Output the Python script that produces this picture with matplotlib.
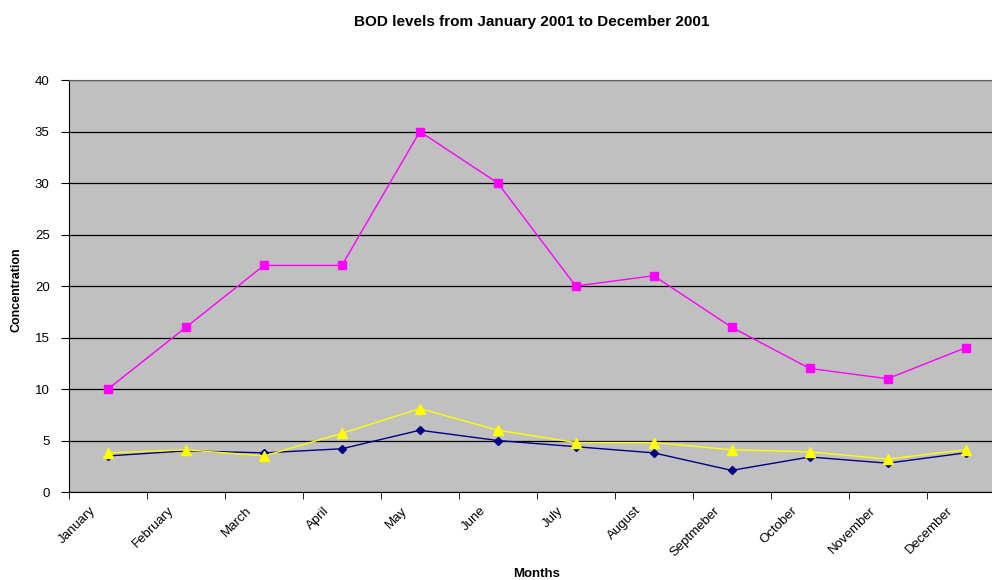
import matplotlib.pyplot as plt
import matplotlib.transforms as mtransforms
import numpy as np

# monthly BOD readings, 2001
months = ['January', 'February', 'March', 'April', 'May', 'June', 'July',
          'August', 'Septmeber', 'October', 'November', 'December']
series_a = [3.5, 4.0, 3.8, 4.2, 6.0, 5.0, 4.4, 3.8, 2.1, 3.4, 2.8, 3.8]
series_b = [10, 16, 22, 22, 35, 30, 20, 21, 16, 12, 11, 14]
series_c = [3.8, 4.1, 3.5, 5.7, 8.1, 6.0, 4.8, 4.8, 4.1, 3.9, 3.2, 4.1]

plt.rcParams['font.family'] = ['Liberation Sans', 'DejaVu Sans']

fig = plt.figure(figsize=(9.92, 5.8), dpi=100)
ax = fig.add_axes([0.0696, 0.1517, 0.943, 0.7103])
ax.set_facecolor('#C0C0C0')

x = np.arange(len(months))
ax.plot(x, series_a, color='#000080', lw=1, marker='D', ms=4.5, zorder=3)
ax.plot(x, series_b, color='#FF00FF', lw=1, marker='s', ms=6, zorder=3)
ax.plot(x, series_c, color='#FFFF00', lw=1, marker='^', ms=6.5, zorder=3)

ax.set_ylim(0, 40)
ax.set_yticks(range(0, 41, 5))
ax.set_xlim(-0.5, len(months) - 0.5)
ax.grid(axis='y', color='black', lw=0.9, zorder=1)

# category labels at the centre, tick marks on the boundaries
ax.set_xticks(x)
ax.set_xticklabels(months, rotation=45, ha='right', fontsize=9.5)
ax.tick_params(axis='x', which='major', length=0, pad=9)
shift = mtransforms.ScaledTranslation(-10 / 100, 0, fig.dpi_scale_trans)
for lab in ax.get_xticklabels():
    lab.set_transform(lab.get_transform() + shift)
ax.set_xticks(np.arange(-0.5, len(months) + 0.5), minor=True)
ax.tick_params(axis='x', which='minor', length=5, direction='out', color='black')
ax.tick_params(axis='y', length=6, labelsize=9.5, color='black', pad=8)

for side in ['top', 'right']:
    ax.spines[side].set_color('#606060')
ax.spines['left'].set_color('black')
ax.spines['bottom'].set_color('black')

ax.set_ylabel('Concentration', fontsize=9, fontweight='bold')
ax.yaxis.set_label_coords(-0.05, 0.49)
ax.set_xlabel('Months', fontsize=9.5, fontweight='bold')
ax.xaxis.set_label_coords(0.5, -0.185)
fig.text(0.536, 0.962, 'BOD levels from January 2001 to December 2001',
         ha='center', va='center', fontsize=11, fontweight='bold')

fig.savefig('out.png', dpi=100)
